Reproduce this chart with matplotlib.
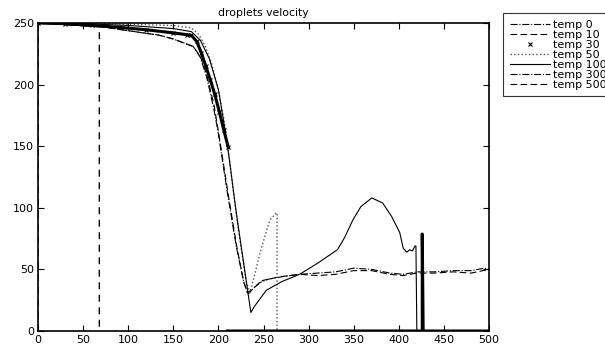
import matplotlib
matplotlib.use('Agg')
import matplotlib.pyplot as plt
from matplotlib.lines import Line2D

# values
temp0_x = [0, 70, 135, 150, 172, 180, 187, 195, 200, 210, 220, 228, 233, 238, 245,
           255, 270, 290, 310, 330, 350, 370, 390, 405, 420, 440, 460, 480, 495, 500]
temp0_y = [250, 247, 240, 237, 231, 222, 206, 180, 160, 112, 68, 40, 30, 34, 39,
           42, 44, 46, 47, 48, 51, 50, 47, 46, 48, 48, 49, 49, 51, 50]

temp10_x = [0, 70, 135, 150, 172, 180, 187, 195, 200, 210, 220, 228, 232, 236, 241,
            249, 268, 290, 310, 330, 350, 370, 390, 405, 420, 440, 460, 480, 500]
temp10_y = [250, 247, 240, 237, 231, 223, 208, 184, 162, 115, 70, 40, 31, 33, 36,
            41, 44, 46, 45, 46, 49, 49, 46, 45, 47, 47, 48, 47, 50]

temp30_x = [0, 30, 60, 90, 120, 150, 165, 170, 176, 181, 186, 191, 196, 201, 206, 211]
temp30_y = [250, 249.5, 248, 246.5, 244.5, 242, 240.5, 240, 235, 226, 215, 204, 192,
            178, 163, 149]

temp50_x = [0, 70, 150, 170, 178, 185, 192, 200, 206, 211, 218, 225, 231, 235, 240,
            246, 252, 257, 263, 265, 265]
temp50_y = [250, 249.5, 248, 246, 241, 232, 218, 196, 172, 147, 105, 68, 40, 31, 45,
            63, 78, 90, 95, 96, 0]

temp100_x = [0, 50, 100, 150, 170, 180, 190, 200, 207, 212, 220, 228, 236, 240, 253,
             270, 290, 310, 332, 340, 349, 358, 370, 382, 392, 401, 405, 409, 412,
             415, 418, 419, 420, 500]
temp100_y = [250, 249.5, 248, 245.5, 243, 236, 221, 196, 165, 140, 95, 55, 15, 20, 33,
             40, 46, 55, 66, 76, 90, 101, 108, 104, 93, 80, 67, 64, 66, 65, 69, 69, 0, 0]

temp300_x = [210, 426, 426, 427, 500]
temp300_y = [0, 0, 78.7, 0, 0]

temp500_x = [0, 0, 68, 68]
temp500_y = [0, 250, 247, 0]

labels = ['temp 0', 'temp 10', 'temp 30', 'temp 50', 'temp 100', 'temp 300', 'temp 500']

fig = plt.figure(figsize=(6.05, 3.46), dpi=100)
ax = fig.add_axes([38 / 605, 15 / 346, 451 / 605, 308 / 346])

lw = 0.8
ax.plot(temp0_x, temp0_y, color='k', ls='-.', lw=lw)
ax.plot(temp10_x, temp10_y, color='k', ls='--', lw=lw, dashes=(6, 3))
ax.plot(temp30_x, temp30_y, color='k', ls='-', lw=2.2)
ax.plot(temp30_x, temp30_y, color='k', ls='none', marker='x', ms=3, mew=0.8)
ax.plot(temp50_x, temp50_y, color='#555555', ls=':', lw=1.0)
ax.plot(temp100_x, temp100_y, color='k', ls='-', lw=lw)
ax.plot(temp300_x, temp300_y, color='k', ls='-', lw=2.2)
ax.plot(temp500_x, temp500_y, color='k', ls='--', lw=1.0, dashes=(5, 4))

ax.set_xlim(0, 500)
ax.set_ylim(0, 250)
ax.set_xticks(range(0, 501, 50))
ax.set_yticks(range(0, 251, 50))
ax.tick_params(direction='in', top=True, right=True, length=4, width=0.8,
               labelsize=8, pad=3)
for s in ax.spines.values():
    s.set_linewidth(1.2)
ax.set_title('droplets velocity', fontsize=7.8, pad=5)

handles = [
    Line2D([], [], color='k', ls='-.', lw=lw),
    Line2D([], [], color='k', ls='--', lw=lw, dashes=(6, 3)),
    Line2D([], [], color='k', ls='none', marker='x', ms=3, mew=0.8),
    Line2D([], [], color='#555555', ls=':', lw=1.0),
    Line2D([], [], color='k', ls='-', lw=lw),
    Line2D([], [], color='k', ls='-.', lw=lw),
    Line2D([], [], color='k', ls='--', lw=lw, dashes=(6, 3)),
]
leg = fig.legend(handles, labels, loc='upper left',
                 bbox_to_anchor=(503 / 605, 1 - 13 / 346),
                 fontsize=8, frameon=True, fancybox=False, handlelength=3.6,
                 handletextpad=0.3, labelspacing=0.0, borderpad=0.6,
                 borderaxespad=0)
leg.get_frame().set_edgecolor('k')
leg.get_frame().set_linewidth(0.8)

fig.savefig('out.png', dpi=100)
